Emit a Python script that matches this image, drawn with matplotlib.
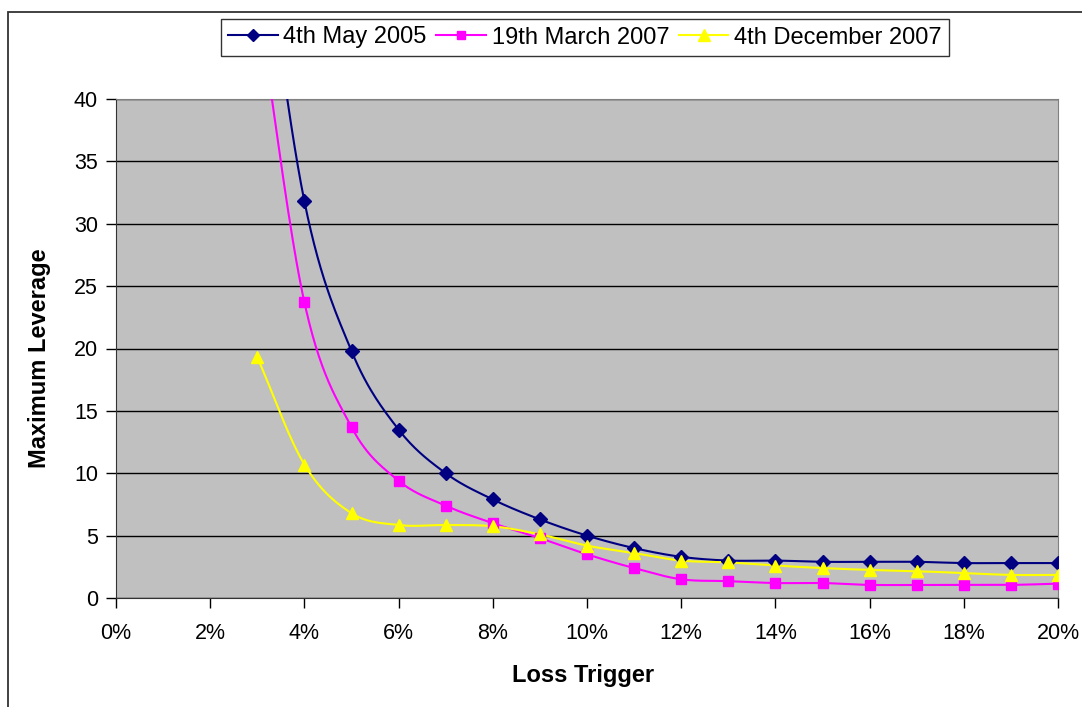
import numpy as np
import matplotlib
matplotlib.use('Agg')
import matplotlib.pyplot as plt
from matplotlib.ticker import PercentFormatter, MultipleLocator
from matplotlib.patches import Rectangle

plt.rcParams['font.family'] = ['Liberation Sans', 'DejaVu Sans']

# loss trigger (fraction) for each point
trigger = [0.03, 0.04, 0.05, 0.06, 0.07, 0.08, 0.09, 0.10, 0.11, 0.12,
           0.13, 0.14, 0.15, 0.16, 0.17, 0.18, 0.19, 0.20]

may_2005 = [57, 31.8, 19.8, 13.5, 10.0, 7.9, 6.3, 5.0, 4.0, 3.3,
            3.0, 3.0, 2.9, 2.9, 2.9, 2.8, 2.8, 2.8]
march_2007 = [48, 23.7, 13.7, 9.4, 7.4, 6.0, 4.8, 3.5, 2.4, 1.5,
              1.35, 1.2, 1.2, 1.05, 1.05, 1.05, 1.05, 1.15]
december_2007 = [19.3, 10.7, 6.8, 5.85, 5.85, 5.75, 5.1, 4.2, 3.6, 3.0,
                 2.85, 2.6, 2.4, 2.25, 2.15, 2.0, 1.85, 1.85]


def smooth(x, y, n=30):
    # Catmull-Rom style curve through the points, like Excel's smoothed line
    x = np.asarray(x, float)
    y = np.asarray(y, float)
    px = np.concatenate([[2 * x[0] - x[1]], x, [2 * x[-1] - x[-2]]])
    py = np.concatenate([[2 * y[0] - y[1]], y, [2 * y[-1] - y[-2]]])
    xs, ys = [], []
    t = np.linspace(0, 1, n)
    for i in range(1, len(px) - 2):
        x0, x1, x2, x3 = px[i - 1:i + 3]
        y0, y1, y2, y3 = py[i - 1:i + 3]
        # bezier control points with tension 1/6
        cx1, cy1 = x1 + (x2 - x0) / 6, y1 + (y2 - y0) / 6
        cx2, cy2 = x2 - (x3 - x1) / 6, y2 - (y3 - y1) / 6
        bx = (1 - t) ** 3 * x1 + 3 * (1 - t) ** 2 * t * cx1 + 3 * (1 - t) * t ** 2 * cx2 + t ** 3 * x2
        by = (1 - t) ** 3 * y1 + 3 * (1 - t) ** 2 * t * cy1 + 3 * (1 - t) * t ** 2 * cy2 + t ** 3 * y2
        xs.extend(bx)
        ys.extend(by)
    return np.array(xs), np.array(ys)


fig = plt.figure(figsize=(10.82, 7.07), dpi=100)
ax = fig.add_axes([116 / 1082, 1 - 598 / 707, 942 / 1082, 499 / 707])
ax.set_facecolor('#C0C0C0')

series = [
    ('4th May 2005', may_2005, '#000080', 'D', 7),
    ('19th March 2007', march_2007, '#FF00FF', 's', 7),
    ('4th December 2007', december_2007, '#FFFF00', '^', 9),
]

handles = []
for label, vals, col, mk, ms in series:
    sx, sy = smooth(trigger, vals)
    ax.plot(sx, sy, color=col, lw=1.5, zorder=3)
    ax.plot(trigger, vals, linestyle='none', marker=mk, markersize=ms,
            color=col, markeredgecolor=col, zorder=4)
    h, = ax.plot([], [], color=col, lw=1.5, marker=mk, markersize=ms - 1,
                 markeredgecolor=col, label=label)
    handles.append(h)

ax.set_xlim(0, 0.20)
ax.set_ylim(0, 40)
ax.xaxis.set_major_locator(MultipleLocator(0.02))
ax.xaxis.set_major_formatter(PercentFormatter(xmax=1, decimals=0))
ax.yaxis.set_major_locator(MultipleLocator(5))
ax.grid(axis='y', color='black', lw=1)
ax.set_axisbelow(True)

for s in ['top', 'right']:
    ax.spines[s].set_color('#808080')
for s in ['left', 'bottom']:
    ax.spines[s].set_color('#333333')
ax.tick_params(direction='out', length=7, width=1, labelsize=15.5)
ax.tick_params(axis='x', pad=11)
ax.tick_params(axis='y', pad=6)

fig.text(583 / 1082, 1 - 682 / 707, 'Loss Trigger', ha='center', va='baseline',
         fontsize=17, fontweight='bold')
fig.text(40 / 1082, 1 - 358 / 707, 'Maximum Leverage', ha='center', va='center',
         fontsize=17, fontweight='bold', rotation=90)

leg = fig.legend(handles=handles, loc='center', ncol=3,
                 bbox_to_anchor=(585 / 1082, 1 - 37.5 / 707),
                 fontsize=17, frameon=True, fancybox=False, edgecolor='black',
                 handlelength=2.1, handletextpad=0.25, columnspacing=0.4,
                 borderpad=0.3, borderaxespad=0)
leg.get_frame().set_linewidth(1)

fig.patches.append(Rectangle((8 / 1082, -0.1), 1.2, 1 - 12 / 707 + 0.1,
                             transform=fig.transFigure, fill=False,
                             edgecolor='#333333', lw=1.3))

plt.savefig('out.png', dpi=100)
